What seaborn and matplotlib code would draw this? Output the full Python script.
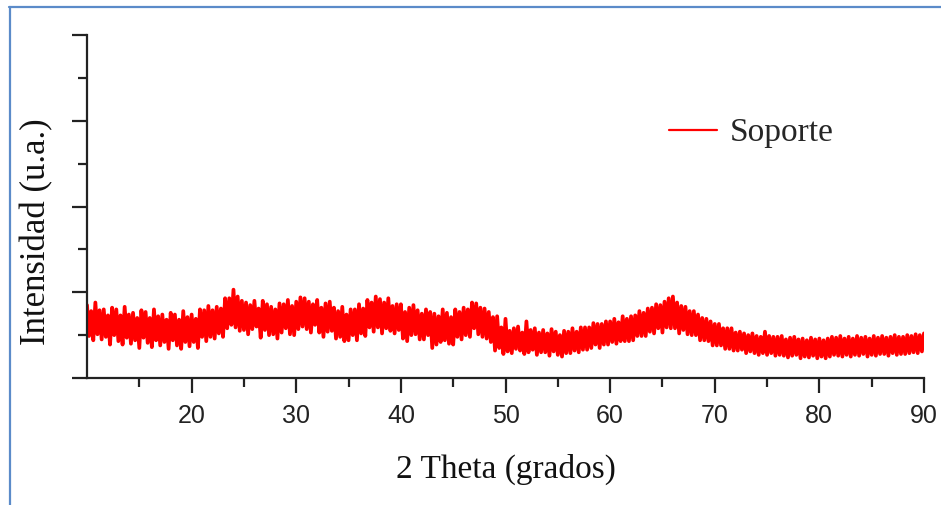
import numpy as np
import matplotlib
matplotlib.use("Agg")
import matplotlib.pyplot as plt
import seaborn as sns
from matplotlib.lines import Line2D
from matplotlib.ticker import MultipleLocator, FixedLocator

# XRD scan of the support: 2-theta from 10 to 90 degrees, 0.2 degree step
scan_start = 10.0
scan_step = 0.2

intensity = [
    0.85, 0.49, 0.78, 0.44, 0.88, 0.51, 0.79, 0.45, 0.80, 0.48,
    0.73, 0.39, 0.82, 0.50, 0.80, 0.43, 0.73, 0.39, 0.83, 0.47,
    0.74, 0.40, 0.76, 0.44, 0.70, 0.35, 0.79, 0.47, 0.77, 0.41,
    0.70, 0.36, 0.80, 0.44, 0.72, 0.38, 0.74, 0.42, 0.68, 0.34,
    0.76, 0.44, 0.74, 0.38, 0.68, 0.34, 0.78, 0.42, 0.71, 0.37,
    0.74, 0.42, 0.69, 0.35, 0.80, 0.48, 0.79, 0.43, 0.84, 0.48,
    0.79, 0.46, 0.83, 0.52, 0.81, 0.48, 0.93, 0.58, 0.93, 0.62,
    1.03, 0.59, 0.95, 0.55, 0.90, 0.56, 0.88, 0.51, 0.85, 0.57,
    0.90, 0.60, 0.81, 0.47, 0.90, 0.56, 0.86, 0.50, 0.83, 0.51,
    0.80, 0.46, 0.87, 0.53, 0.86, 0.58, 0.91, 0.51, 0.84, 0.50,
    0.89, 0.57, 0.94, 0.60, 0.93, 0.57, 0.89, 0.53, 0.86, 0.62,
    0.91, 0.53, 0.82, 0.48, 0.87, 0.54, 0.89, 0.55, 0.82, 0.46,
    0.78, 0.48, 0.83, 0.43, 0.74, 0.44, 0.80, 0.50, 0.80, 0.44,
    0.86, 0.52, 0.81, 0.49, 0.91, 0.59, 0.88, 0.54, 0.95, 0.59,
    0.92, 0.52, 0.88, 0.58, 0.93, 0.55, 0.84, 0.52, 0.86, 0.56,
    0.86, 0.46, 0.77, 0.43, 0.82, 0.50, 0.85, 0.51, 0.79, 0.45,
    0.75, 0.45, 0.80, 0.50, 0.77, 0.35, 0.75, 0.39, 0.72, 0.42,
    0.80, 0.44, 0.76, 0.40, 0.71, 0.39, 0.80, 0.48, 0.77, 0.45,
    0.82, 0.50, 0.80, 0.48, 0.88, 0.58, 0.87, 0.51, 0.82, 0.48,
    0.81, 0.46, 0.77, 0.42, 0.71, 0.32, 0.72, 0.35, 0.59, 0.28,
    0.69, 0.31, 0.55, 0.29, 0.58, 0.34, 0.60, 0.32, 0.53, 0.28,
    0.66, 0.30, 0.56, 0.33, 0.58, 0.27, 0.53, 0.30, 0.56, 0.30,
    0.52, 0.26, 0.57, 0.31, 0.54, 0.27, 0.50, 0.25, 0.55, 0.29,
    0.54, 0.29, 0.58, 0.32, 0.54, 0.30, 0.59, 0.33, 0.59, 0.33,
    0.59, 0.35, 0.64, 0.39, 0.63, 0.35, 0.63, 0.39, 0.66, 0.39,
    0.66, 0.42, 0.69, 0.40, 0.65, 0.43, 0.72, 0.43, 0.69, 0.43,
    0.72, 0.44, 0.73, 0.49, 0.78, 0.49, 0.76, 0.49, 0.81, 0.54,
    0.82, 0.52, 0.86, 0.58, 0.85, 0.53, 0.89, 0.59, 0.93, 0.58,
    0.95, 0.58, 0.88, 0.52, 0.84, 0.56, 0.83, 0.51, 0.78, 0.50,
    0.78, 0.50, 0.74, 0.44, 0.70, 0.44, 0.69, 0.43, 0.66, 0.38,
    0.63, 0.38, 0.63, 0.38, 0.58, 0.34, 0.58, 0.34, 0.58, 0.32,
    0.53, 0.32, 0.54, 0.33, 0.52, 0.29, 0.50, 0.31, 0.52, 0.29,
    0.49, 0.27, 0.48, 0.29, 0.54, 0.27, 0.49, 0.29, 0.48, 0.26,
    0.48, 0.27, 0.49, 0.26, 0.45, 0.24, 0.47, 0.26, 0.48, 0.27,
    0.45, 0.23, 0.46, 0.25, 0.44, 0.24, 0.47, 0.26, 0.45, 0.23,
    0.46, 0.25, 0.44, 0.23, 0.46, 0.25, 0.48, 0.27, 0.47, 0.26,
    0.49, 0.25, 0.46, 0.27, 0.48, 0.25, 0.46, 0.27, 0.49, 0.26,
    0.47, 0.28, 0.48, 0.25, 0.46, 0.27, 0.49, 0.26, 0.47, 0.28,
    0.49, 0.28, 0.47, 0.26, 0.48, 0.29, 0.50, 0.27, 0.48, 0.28,
    0.48, 0.28, 0.50, 0.29, 0.49, 0.30, 0.51, 0.29, 0.50, 0.31,
    0.52,
]
two_theta = np.round(scan_start + scan_step * np.arange(len(intensity)), 1)

x_major_ticks = [20, 30, 40, 50, 60, 70, 80, 90]
x_label = "2 Theta (grados)"
y_label = "Intensidad (u.a.)"
series_label = "Soporte"

sns.set_style("ticks")
plt.rcParams["font.family"] = ["Liberation Serif", "DejaVu Serif"]

W, H = 941, 505
fig = plt.figure(figsize=(W / 100, H / 100), dpi=100)
ax = fig.add_axes([87 / W, 1 - 378 / H, 837 / W, 343 / H])

sns.lineplot(x=two_theta, y=intensity, color="#ff0000", linewidth=2.7,
             label=series_label, ax=ax, sort=False)

ax.set_xlim(10, 90)
ax.set_ylim(0, 4)
ax.xaxis.set_major_locator(FixedLocator(x_major_ticks))
ax.xaxis.set_minor_locator(FixedLocator([15, 25, 35, 45, 55, 65, 75, 85]))
ax.yaxis.set_major_locator(MultipleLocator(1))
ax.yaxis.set_minor_locator(MultipleLocator(0.5))
ax.set_yticklabels([])

axis_color = "#222222"
for side in ("top", "right"):
    ax.spines[side].set_visible(False)
for side in ("left", "bottom"):
    ax.spines[side].set_linewidth(1.6)
    ax.spines[side].set_color(axis_color)

ax.tick_params(which="major", direction="out", length=11, width=1.6,
               color=axis_color, pad=8)
ax.tick_params(which="minor", direction="out", length=6.5, width=1.6,
               color=axis_color)
ax.tick_params(axis="x", labelsize=18, labelcolor=axis_color)
for lab in ax.get_xticklabels():
    lab.set_family(["Liberation Sans", "DejaVu Sans"])

ax.set_xlabel(x_label, fontsize=24, color="#111111", labelpad=18)
ax.set_ylabel(y_label, fontsize=25, color="#111111")
ax.yaxis.set_label_coords(-0.040, 0.427)

leg = ax.legend(loc="center left", bbox_to_anchor=(0.695, 0.714),
                frameon=False, fontsize=24, handlelength=1.44,
                handletextpad=0.39, borderpad=0, borderaxespad=0)
for h in leg.get_lines():
    h.set_linewidth(1.6)

# outer frame lines along the top and left edges
frame_color = "#5b8bc9"
fig.add_artist(Line2D([9 / W, 1], [1 - 7 / H, 1 - 7 / H],
                      transform=fig.transFigure, color=frame_color, lw=1.6))
fig.add_artist(Line2D([10 / W, 10 / W], [0, 1 - 7 / H],
                      transform=fig.transFigure, color=frame_color, lw=1.6))

fig.savefig("out.png", dpi=100)
